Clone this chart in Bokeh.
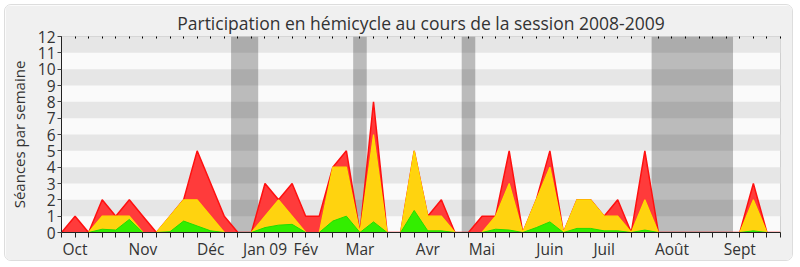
from bokeh.plotting import figure
from bokeh.models import FixedTicker, BoxAnnotation, LinearAxis, Range1d
from bokeh.embed import file_html
from bokeh.resources import INLINE

# Weekly data (week index 0 = early October 2008)
semaines = list(range(54))
seances = [0, 1, 0, 2, 1, 2, 1, 0, 1, 2, 5, 3, 1, 0, 0, 3, 2, 3, 1, 1,
           4, 5, 0, 8, 0, 0, 5, 1, 2, 0, 0, 1, 1, 5, 0, 2, 5, 0, 2, 2,
           1, 2, 0, 5, 0, 0, 0, 0, 0, 0, 0, 3, 0, 0]
presences = [0, 0, 0, 1, 1, 1, 0, 0, 1, 2, 2, 1, 0, 0, 0, 1, 2, 1, 0, 0,
             4, 4, 0, 6, 0, 0, 5, 1, 1, 0, 0, 0, 1, 3, 0, 2, 4, 0, 2, 2,
             1, 1, 0, 2, 0, 0, 0, 0, 0, 0, 0, 2, 0, 0]
interventions = [0, 0, 0, 0.2, 0.15, 0.8, 0, 0, 0.05, 0.7, 0.4, 0.1, 0, 0, 0, 0.3, 0.45, 0.5, 0, 0,
                 0.7, 1.0, 0, 0.65, 0, 0, 1.35, 0.1, 0.1, 0, 0, 0, 0.2, 0.15, 0, 0.3, 0.65, 0, 0.25, 0.25,
                 0.1, 0.1, 0, 0.15, 0, 0, 0, 0, 0, 0, 0, 0.1, 0, 0]

mois_pos = [1, 6, 11, 15, 18, 22, 27, 31, 36, 40, 45, 50]
mois_lab = ["Oct", "Nov", "Déc", "Jan 09", "Fév", "Mar", "Avr", "Mai", "Juin", "Juil", "Août", "Sept"]
vacances = [(12.5, 14.5), (21.5, 22.5), (29.5, 30.5), (43.5, 49.5)]
y_ticks = list(range(13))

FONT = "Open Sans"

p = figure(width=789, height=257, output_backend="svg", toolbar_location=None,
           x_range=Range1d(0, 53), y_range=Range1d(0, 12),
           min_border_left=56, min_border_right=14, min_border_top=31, min_border_bottom=29)
p.styles = {"border": "1px solid #dddddd", "border-radius": "7px", "overflow": "hidden",
            "margin": "4px 0 0 4px"}
p.border_fill_color = "#f0f0f0"
p.background_fill_color = "#fafafa"
p.outline_line_color = "#d0d0d0"
p.grid.visible = False

p.title.text = "Participation en hémicycle au cours de la session 2008-2009"
p.title.align = "center"
p.title.text_font = FONT
p.title.text_font_size = "17.5px"
p.title.text_font_style = "normal"
p.title.text_color = "#333333"
p.title.standoff = 3

# horizontal stripes
for k in y_ticks[1:-1:2]:
    p.add_layout(BoxAnnotation(bottom=k, top=k + 1, fill_color="#e6e6e6", fill_alpha=1.0,
                               line_color=None, level="underlay"))
# vacation bands
for a, b in vacances:
    p.add_layout(BoxAnnotation(left=a, right=b, fill_color="#000000", fill_alpha=0.25,
                               line_color=None, level="underlay"))

p.varea(x=semaines, y1=0, y2=seances, fill_color="#ff3b3b")
p.line(semaines, seances, line_color="#ff1010", line_width=1.5)
p.varea(x=semaines, y1=0, y2=presences, fill_color="#ffd30f")
p.line(semaines, presences, line_color="#ffdd00", line_width=1.2)
p.varea(x=semaines, y1=0, y2=interventions, fill_color="#33ee00")
p.line(semaines, interventions, line_color="#22dd00", line_width=1)

xa = p.xaxis[0]
xa.ticker = FixedTicker(ticks=semaines)
overrides = {i: "" for i in semaines}
for pos, lab in zip(mois_pos, mois_lab):
    overrides[pos] = lab
xa.major_label_overrides = overrides
xa.major_tick_in = 0
xa.major_tick_out = 5
xa.minor_tick_line_color = None
xa.axis_line_color = "#222222"
xa.major_tick_line_color = "#222222"
xa.major_label_text_font = FONT
xa.major_label_text_font_size = "15.5px"
xa.major_label_text_color = "#333333"
xa.major_label_standoff = 0

ya = p.yaxis[0]
ya.ticker = FixedTicker(ticks=y_ticks)
ya.major_tick_in = 0
ya.major_tick_out = 4
ya.minor_tick_line_color = None
ya.axis_line_color = "#222222"
ya.major_tick_line_color = "#444444"
ya.major_label_text_font = FONT
ya.major_label_text_font_size = "15.5px"
ya.major_label_text_color = "#333333"
ya.major_label_standoff = 2
ya.axis_label = "Séances par semaine"
ya.axis_label_text_font = FONT
ya.axis_label_text_font_size = "15px"
ya.axis_label_text_font_style = "normal"
ya.axis_label_text_color = "#333333"
ya.axis_label_standoff = 6

top = LinearAxis(ticker=FixedTicker(ticks=semaines), major_label_text_font_size="0px",
                 axis_line_color=None, major_tick_in=2, major_tick_out=0,
                 major_tick_line_color="#000000", minor_tick_line_color=None,
                 major_label_standoff=0)
top.major_label_overrides = {i: "" for i in semaines}
p.add_layout(top, "above")

open("out.html", "w").write(file_html(p, INLINE))
